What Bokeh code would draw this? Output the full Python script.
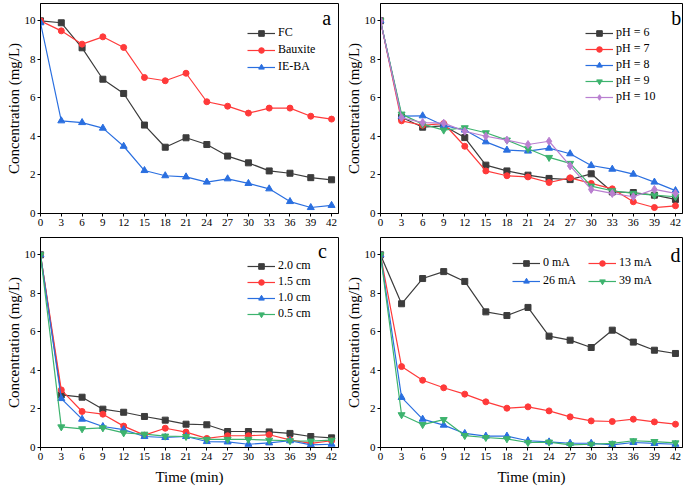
from bokeh.plotting import figure
from bokeh.layouts import column, row
from bokeh.models import Legend, LegendItem, FixedTicker, Range1d, Label
from bokeh.embed import file_html
from bokeh.resources import INLINE

# ---------------- data ----------------
time = [0, 3, 6, 9, 12, 15, 18, 21, 24, 27, 30, 33, 36, 39, 42]

# panel a
a_fc = [10, 9.9, 8.6, 6.97, 6.23, 4.59, 3.44, 3.93, 3.58, 2.98, 2.63, 2.21, 2.09, 1.86, 1.75]
a_bauxite = [10, 9.48, 8.79, 9.17, 8.62, 7.06, 6.89, 7.28, 5.80, 5.57, 5.21, 5.47, 5.47, 5.05, 4.90]
a_ieba = [9.9, 4.81, 4.72, 4.43, 3.49, 2.23, 1.96, 1.90, 1.63, 1.80, 1.56, 1.28, 0.62, 0.31, 0.42]

# panel b
b_ph6 = [10, 5.0, 4.48, 4.55, 3.94, 2.51, 2.21, 1.99, 1.82, 1.76, 2.06, 1.12, 1.09, 0.95, 0.73]
b_ph7 = [10, 4.81, 4.58, 4.67, 3.49, 2.21, 1.96, 1.90, 1.61, 1.85, 1.56, 1.28, 0.61, 0.31, 0.40]
b_ph8 = [10, 5.05, 5.07, 4.57, 4.33, 3.72, 3.29, 3.24, 3.39, 3.10, 2.49, 2.30, 2.04, 1.63, 1.19]
b_ph9 = [10, 5.16, 4.64, 4.33, 4.45, 4.19, 3.81, 3.36, 2.91, 2.60, 1.42, 1.18, 1.04, 0.95, 0.87]
b_ph10 = [10, 4.97, 4.72, 4.69, 4.27, 4.01, 3.81, 3.58, 3.75, 2.47, 1.25, 1.04, 0.87, 1.25, 1.04]

# panel c
c_20 = [10, 2.73, 2.61, 1.99, 1.83, 1.61, 1.42, 1.21, 1.18, 0.83, 0.83, 0.81, 0.73, 0.57, 0.50]
c_15 = [10, 2.99, 1.87, 1.73, 1.11, 0.64, 1.00, 0.80, 0.47, 0.61, 0.61, 0.66, 0.40, 0.21, 0.35]
c_10 = [10, 2.54, 1.47, 1.09, 0.93, 0.57, 0.52, 0.57, 0.31, 0.29, 0.17, 0.24, 0.35, 0.14, 0.17]
c_05 = [10, 1.07, 0.97, 1.02, 0.76, 0.69, 0.59, 0.57, 0.42, 0.42, 0.42, 0.38, 0.35, 0.33, 0.38]

# panel d
d_0 = [10, 7.46, 8.77, 9.13, 8.62, 7.04, 6.85, 7.27, 5.78, 5.57, 5.19, 6.09, 5.47, 5.05, 4.88]
d_13 = [10, 4.20, 3.49, 3.10, 2.77, 2.37, 2.04, 2.11, 1.90, 1.59, 1.38, 1.35, 1.47, 1.33, 1.21]
d_26 = [10, 2.60, 1.47, 1.16, 0.73, 0.59, 0.59, 0.35, 0.29, 0.22, 0.22, 0.14, 0.26, 0.21, 0.17]
d_39 = [10, 1.70, 1.19, 1.45, 0.62, 0.52, 0.45, 0.26, 0.28, 0.14, 0.17, 0.21, 0.35, 0.31, 0.24]

x_ticks = [0, 3, 6, 9, 12, 15, 18, 21, 24, 27, 30, 33, 36, 39, 42]
y_ticks = [0, 2, 4, 6, 8, 10]

# ---------------- style ----------------
FONT = "Liberation Serif"
BLACK = "#3c3c3c"
RED = "#ff3a3a"
BLUE = "#2a6fe0"
GREEN = "#3db36e"
PURPLE = "#b97fd0"


def make_fig(fw, fh, left, right, top, bottom, xlabel):
    p = figure(frame_width=fw, frame_height=fh,
               x_range=Range1d(0, 43), y_range=Range1d(0, 10.9),
               output_backend="svg", toolbar_location=None,
               min_border_left=left, min_border_right=right,
               min_border_top=top, min_border_bottom=bottom)
    p.xgrid.visible = False
    p.ygrid.visible = False
    p.outline_line_color = "black"
    p.outline_line_alpha = 1.0
    p.outline_line_width = 1
    p.background_fill_color = "white"
    p.border_fill_color = "white"
    for ax in (p.xaxis[0], p.yaxis[0]):
        ax.axis_line_color = "black"
        ax.major_tick_line_color = "black"
        ax.major_tick_out = 3
        ax.major_tick_in = 0
        ax.minor_tick_line_color = None
        ax.major_label_text_font = FONT
        ax.major_label_text_font_size = "11px"
        ax.major_label_text_color = "black"
        ax.major_label_standoff = 2
        ax.axis_label_text_font = FONT
        ax.axis_label_text_font_size = "15px"
        ax.axis_label_text_font_style = "normal"
        ax.axis_label_text_color = "black"
    p.xaxis[0].ticker = FixedTicker(ticks=x_ticks)
    p.yaxis[0].ticker = FixedTicker(ticks=y_ticks)
    p.yaxis[0].axis_label = "Concentration (mg/L)"
    p.yaxis[0].axis_label_standoff = 0
    if xlabel:
        p.xaxis[0].axis_label = "Time (min)"
        p.xaxis[0].axis_label_standoff = 6
    return p


def add_series(p, y, color, marker, size=6):
    r1 = p.line(time, y, line_color=color, line_width=1.2)
    r2 = p.scatter(time, y, marker=marker, size=size, fill_color=color, line_color=color)
    return [r1, r2]


def add_legend(p, items, loc, ncols=1, spacing=2, label_width=20):
    leg = Legend(items=[LegendItem(label=l, renderers=r) for l, r in items],
                 location=loc, ncols=ncols,
                 label_text_font=FONT, label_text_font_size="12px",
                 label_text_color="black",
                 glyph_width=28, glyph_height=14, label_height=14,
                 label_width=label_width,
                 label_standoff=3, spacing=spacing, padding=0, margin=0,
                 border_line_color=None, background_fill_alpha=0)
    p.add_layout(leg)
    return leg


def add_letter(p, text, x, y):
    p.add_layout(Label(x=x, y=y, text=text, text_font=FONT, text_font_size="20px",
                       text_align="center", text_baseline="middle", text_color="black"))


# panel a
pa = make_fig(298, 210, 40, 1, 3, 22, False)
ra1 = add_series(pa, a_fc, BLACK, "square")
ra2 = add_series(pa, a_bauxite, RED, "circle")
ra3 = add_series(pa, a_ieba, BLUE, "triangle", 7)
add_legend(pa, [("FC", ra1), ("Bauxite", ra2), ("IE-BA", ra3)], (207, 139))
add_letter(pa, "a", 41.3, 10.15)

# panel b
pb = make_fig(302, 210, 41, 3, 3, 22, False)
rb1 = add_series(pb, b_ph6, BLACK, "square")
rb2 = add_series(pb, b_ph7, RED, "circle")
rb3 = add_series(pb, b_ph8, BLUE, "triangle", 7)
rb4 = add_series(pb, b_ph9, GREEN, "inverted_triangle", 7)
rb5 = add_series(pb, b_ph10, PURPLE, "diamond", 8)
add_legend(pb, [("pH = 6", rb1), ("pH = 7", rb2), ("pH = 8", rb3),
                ("pH = 9", rb4), ("pH = 10", rb5)], (205, 109), spacing=1)
add_letter(pb, "b", 42.1, 10.15)

# panel c
pc = make_fig(298, 210, 40, 1, 2, 41, True)
rc1 = add_series(pc, c_20, BLACK, "square")
rc2 = add_series(pc, c_15, RED, "circle")
rc3 = add_series(pc, c_10, BLUE, "triangle", 7)
rc4 = add_series(pc, c_05, GREEN, "inverted_triangle", 7)
add_legend(pc, [("2.0 cm", rc1), ("1.5 cm", rc2), ("1.0 cm", rc3), ("0.5 cm", rc4)],
           (207, 126), spacing=1)
add_letter(pc, "c", 40.7, 10.2)

# panel d  (legend fills column by column: order gives rows "0 / 13" and "26 / 39")
pd_ = make_fig(302, 210, 41, 3, 2, 41, True)
rd1 = add_series(pd_, d_0, BLACK, "square")
rd2 = add_series(pd_, d_13, RED, "circle")
rd3 = add_series(pd_, d_26, BLUE, "triangle", 7)
rd4 = add_series(pd_, d_39, GREEN, "inverted_triangle", 7)
add_legend(pd_, [("0 mA", rd1), ("26 mA", rd3), ("13 mA", rd2), ("39 mA", rd4)],
           (132, 159), ncols=2, spacing=3, label_width=42)
add_letter(pd_, "d", 42.0, 10.0)

layout = column(row(pa, pb), row(pc, pd_))

with open("out.html", "w") as f:
    f.write(file_html(layout, INLINE))
